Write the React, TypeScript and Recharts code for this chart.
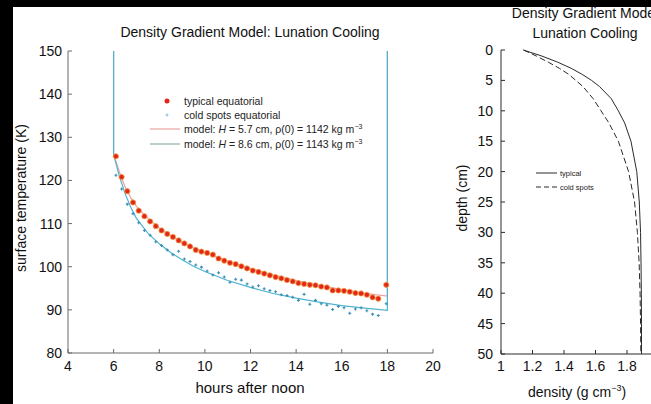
import React from 'react'
import { ScatterChart, Scatter, XAxis, YAxis, Legend } from 'recharts'

const FONT = '"Liberation Sans", Arial, Helvetica, sans-serif'

// observed hours after noon (shared by both data sets)
const obsHours = [
  6.1, 6.35, 6.6, 6.85, 7.1, 7.35, 7.6, 7.85, 8.1, 8.35, 8.6, 8.85, 9.1, 9.35, 9.6, 9.85,
  10.1, 10.35, 10.6, 10.85, 11.1, 11.35, 11.6, 11.85, 12.1, 12.35, 12.6, 12.85, 13.1, 13.35,
  13.6, 13.85, 14.1, 14.35, 14.6, 14.85, 15.1, 15.35, 15.6, 15.85, 16.1, 16.35, 16.6, 16.85,
  17.1, 17.35, 17.6, 17.95,
]
const typicalTemps = [
  125.6, 120.8, 117.5, 114.9, 113.0, 111.7, 110.5, 109.4, 108.4, 107.6, 106.9, 106.1, 105.4,
  104.7, 103.9, 103.5, 103.2, 102.8, 101.9, 101.4, 100.9, 100.6, 100.1, 99.6, 99.1, 98.8, 98.4,
  98.0, 97.6, 97.3, 96.9, 96.6, 96.2, 96.0, 95.8, 95.7, 95.4, 95.2, 94.5, 94.5, 94.4, 94.2,
  93.9, 93.8, 93.5, 92.9, 92.6, 95.8,
]
const coldTemps = [
  121.2, 118.0, 114.5, 112.3, 110.2, 108.4, 107.3, 105.8, 104.9, 103.9, 102.8, 103.6, 101.8,
  101.2, 100.4, 99.9, 99.0, 98.1, 98.6, 97.6, 96.4, 97.1, 96.9, 96.0, 95.3, 95.6, 94.9, 94.5,
  94.2, 93.5, 93.3, 92.9, 92.2, 93.6, 91.3, 92.2, 91.4, 91.1, 90.1, 90.8, 90.5, 89.2, 90.2,
  90.5, 89.8, 89.0, 88.7, 91.4,
]

// model curves (off-scale before sunset and after sunrise)
const modelHours = [6, 6, 6.25, 6.5, 6.75, 7, 7.5, 8, 8.5, 9, 9.5, 10, 11, 12, 13, 14, 15, 16, 17, 18, 18]
const modelTypical = [160, 126, 122, 118.5, 116, 114, 111.2, 109, 107.2, 105.7, 104.4, 103.3, 101.3, 99.6, 98.1, 96.8, 95.7, 94.7, 93.8, 93.2, 160]
const modelCold = [160, 126, 121, 117, 113.8, 111.2, 107.8, 105.3, 103.3, 101.6, 100.1, 98.9, 96.8, 95.2, 93.8, 92.7, 91.8, 91.0, 90.4, 89.9, 160]

const hourTicks = [4, 6, 8, 10, 12, 14, 16, 18, 20]
const tempTicks = [80, 90, 100, 110, 120, 130, 140, 150]

// density profiles
const depths = [0, 1, 2, 3, 4, 5, 6, 8, 10, 12, 15, 20, 25, 30, 35, 40, 45, 50]
const densTypical = [1.142, 1.26, 1.36, 1.445, 1.515, 1.575, 1.625, 1.7, 1.745, 1.785, 1.825, 1.862, 1.878, 1.886, 1.889, 1.891, 1.892, 1.892]
const densCold = [1.143, 1.225, 1.3, 1.37, 1.43, 1.475, 1.52, 1.585, 1.635, 1.685, 1.745, 1.81, 1.848, 1.866, 1.877, 1.883, 1.886, 1.888]
const densityTicks = [1, 1.2, 1.4, 1.6, 1.8]
const depthTicks = [0, 5, 10, 15, 20, 25, 30, 35, 40, 45, 50]

const typicalPts = obsHours.map((h, i) => ({ h, t: typicalTemps[i] }))
const coldPts = obsHours.map((h, i) => ({ h, t: coldTemps[i] }))
const modelTypPts = modelHours.map((h, i) => ({ h, t: modelTypical[i] }))
const modelColdPts = modelHours.map((h, i) => ({ h, t: modelCold[i] }))
const typProfile = depths.map((d, i) => ({ rho: densTypical[i], d }))
const coldProfile = depths.map((d, i) => ({ rho: densCold[i], d }))

const RED = '#e3261c'
const CYAN = '#4fb4cf'
const PINK = '#e9a2a0'
const FRAME = '#6a6a6a'
const DARK = '#2a2a2a'

const noShape = () => <g />
const redDot = (p: any) => (
  <circle cx={p.cx} cy={p.cy} r={2.6} fill={RED} stroke="#f29a3c" strokeWidth={0.8} />
)
const coldMark = (p: any) => (
  <path d={`M${p.cx - 1.5},${p.cy}h3M${p.cx},${p.cy - 1.5}v3`} stroke="#3a8db5" strokeWidth={1.1} />
)

// ticks drawn inward, labels outside
const makeTick = (side: string, color: string, labelled: boolean, gap: number) => (p: any) => {
  const { x, y, payload } = p
  const len = 4
  const txt = { fontFamily: FONT, fontSize: 14, fill: '#111' }
  if (side === 'bottom')
    return (
      <g>
        <line x1={x} y1={y} x2={x} y2={y - len} stroke={color} />
        {labelled && <text x={x} y={y + gap} textAnchor="middle" {...txt}>{payload.value}</text>}
      </g>
    )
  if (side === 'top') return <line x1={x} y1={y} x2={x} y2={y + len} stroke={color} />
  if (side === 'right') return <line x1={x} y1={y} x2={x - len} y2={y} stroke={color} />
  return (
    <g>
      <line x1={x} y1={y} x2={x + len} y2={y} stroke={color} />
      {labelled && <text x={x - gap} y={y} dy={5} textAnchor="end" {...txt}>{payload.value}</text>}
    </g>
  )
}

function LeftLegend() {
  const row = { display: 'flex', alignItems: 'center', height: 14.3 } as const
  const sup = { fontSize: 7, verticalAlign: 'super', lineHeight: 0 } as const
  return (
    <div style={{ fontFamily: FONT, fontSize: 10.5, color: '#222', whiteSpace: 'nowrap' }}>
      <div style={row}>
        <svg width={36} height={14}><circle cx={19} cy={7} r={2.5} fill={RED} /></svg>
        <span>typical equatorial</span>
      </div>
      <div style={row}>
        <svg width={36} height={14}><path d="M17.5,7h3M19,5.5v3" stroke="#7cc3d8" /></svg>
        <span>cold spots equatorial</span>
      </div>
      <div style={row}>
        <svg width={36} height={14}><line x1={2} y1={7} x2={32} y2={7} stroke={PINK} strokeWidth={1.2} /></svg>
        <span>model: <i>H</i> = 5.7 cm, ρ(0) = 1142 kg m<span style={sup}>−3</span></span>
      </div>
      <div style={row}>
        <svg width={36} height={14}><line x1={2} y1={7} x2={32} y2={7} stroke="#8fb0a8" strokeWidth={1.2} /></svg>
        <span>model: <i>H</i> = 8.6 cm, ρ(0) = 1143 kg m<span style={sup}>−3</span></span>
      </div>
    </div>
  )
}

function RightLegend() {
  const row = { display: 'flex', alignItems: 'center', height: 14 } as const
  return (
    <div style={{ fontFamily: FONT, fontSize: 7.5, color: '#222', whiteSpace: 'nowrap' }}>
      <div style={row}>
        <svg width={26} height={12}><line x1={2} y1={6} x2={23} y2={6} stroke={DARK} /></svg>
        <span>typical</span>
      </div>
      <div style={row}>
        <svg width={26} height={12}><line x1={2} y1={6} x2={23} y2={6} stroke={DARK} strokeDasharray="5 3" /></svg>
        <span>cold spots</span>
      </div>
    </div>
  )
}

export default function App() {
  const txt = { fontFamily: FONT, fontSize: 14, fill: '#111' }
  return (
    <div style={{ position: 'fixed', left: 0, top: 0, width: 651, height: 404, background: '#000', overflow: 'hidden' }}>
      <div style={{ position: 'absolute', left: 13, top: 7, right: 0, bottom: 0, background: '#fff' }} />

      <div style={{ position: 'absolute', left: 0, top: 0 }}>
        <ScatterChart width={460} height={404} margin={{ top: 51, right: 27, bottom: 21, left: 28 }}>
          <XAxis type="number" dataKey="h" domain={[4, 20]} ticks={hourTicks} interval={0}
            height={30} tickSize={0} tickMargin={0} tickLine={false} stroke={FRAME}
            tick={makeTick('bottom', FRAME, true, 18)} />
          <XAxis xAxisId="top" orientation="top" type="number" domain={[4, 20]} ticks={hourTicks}
            allowDataOverflow interval={0} height={0} tickSize={0} tickMargin={0} tickLine={false}
            stroke={FRAME} tick={makeTick('top', FRAME, false, 0)} />
          <YAxis type="number" dataKey="t" domain={[80, 150]} ticks={tempTicks} interval={0}
            allowDataOverflow width={40} tickSize={0} tickMargin={0} tickLine={false} stroke={FRAME}
            tick={makeTick('left', FRAME, true, 6)} />
          <YAxis yAxisId="right" orientation="right" type="number" domain={[80, 150]} ticks={tempTicks}
            allowDataOverflow interval={0} width={0} tickSize={0} tickMargin={0} tickLine={false}
            stroke={FRAME} tick={makeTick('right', FRAME, false, 0)} />
          <Legend layout="vertical" verticalAlign="middle" align="center"
            wrapperStyle={{ left: 148, top: 93.5, width: 250 }} content={() => <LeftLegend />} />
          <Scatter data={modelTypPts} shape={noShape} line={{ stroke: PINK, strokeWidth: 1.2 }}
            lineType="joint" isAnimationActive={false} />
          <Scatter data={modelColdPts} shape={noShape} line={{ stroke: CYAN, strokeWidth: 1.2 }}
            lineType="joint" isAnimationActive={false} />
          <Scatter data={coldPts} shape={coldMark} isAnimationActive={false} />
          <Scatter data={typicalPts} shape={redDot} isAnimationActive={false} />
        </ScatterChart>
      </div>

      <div style={{ position: 'absolute', left: 460, top: 0 }}>
        <ScatterChart width={240} height={404} margin={{ top: 50, right: 41.5, bottom: 20, left: 1 }}>
          <XAxis type="number" dataKey="rho" domain={[1, 2]} ticks={densityTicks} interval={0}
            height={30} tickSize={0} tickMargin={0} tickLine={false} stroke={DARK}
            tick={makeTick('bottom', DARK, true, 17)} />
          <XAxis xAxisId="top" orientation="top" type="number" domain={[1, 2]} ticks={densityTicks}
            allowDataOverflow interval={0} height={0} tickSize={0} tickMargin={0} tickLine={false}
            stroke={DARK} tick={makeTick('top', DARK, false, 0)} />
          <YAxis type="number" dataKey="d" domain={[0, 50]} reversed ticks={depthTicks} interval={0}
            width={40} tickSize={0} tickMargin={0} tickLine={false} stroke={DARK}
            tick={makeTick('left', DARK, true, 8)} />
          <Legend layout="vertical" verticalAlign="middle" align="center"
            wrapperStyle={{ left: 74, top: 166, width: 100 }} content={() => <RightLegend />} />
          <Scatter data={typProfile} shape={noShape} line={{ stroke: DARK, strokeWidth: 1 }}
            lineType="joint" isAnimationActive={false} />
          <Scatter data={coldProfile} shape={noShape}
            line={{ stroke: DARK, strokeWidth: 1, strokeDasharray: '6 3' }}
            lineType="joint" isAnimationActive={false} />
        </ScatterChart>
      </div>

      <svg width={651} height={404} style={{ position: 'absolute', left: 0, top: 0, pointerEvents: 'none' }}>
        <text x={250} y={37} textAnchor="middle" {...txt}>Density Gradient Model: Lunation Cooling</text>
        <text x={250} y={393} textAnchor="middle" {...txt} fontSize={15}>hours after noon</text>
        <text transform="translate(26,198) rotate(-90)" textAnchor="middle" {...txt}>surface temperature (K)</text>
        <text x={585} y={18} textAnchor="middle" {...txt}>Density Gradient Model</text>
        <text x={585} y={38} textAnchor="middle" {...txt}>Lunation Cooling</text>
        <text x={577} y={397} textAnchor="middle" {...txt}>
          density (g cm<tspan dy={-6} fontSize={9}>−3</tspan><tspan dy={6}>)</tspan>
        </text>
        <text transform="translate(467,198) rotate(-90)" textAnchor="middle" {...txt}>depth (cm)</text>
      </svg>
    </div>
  )
}
